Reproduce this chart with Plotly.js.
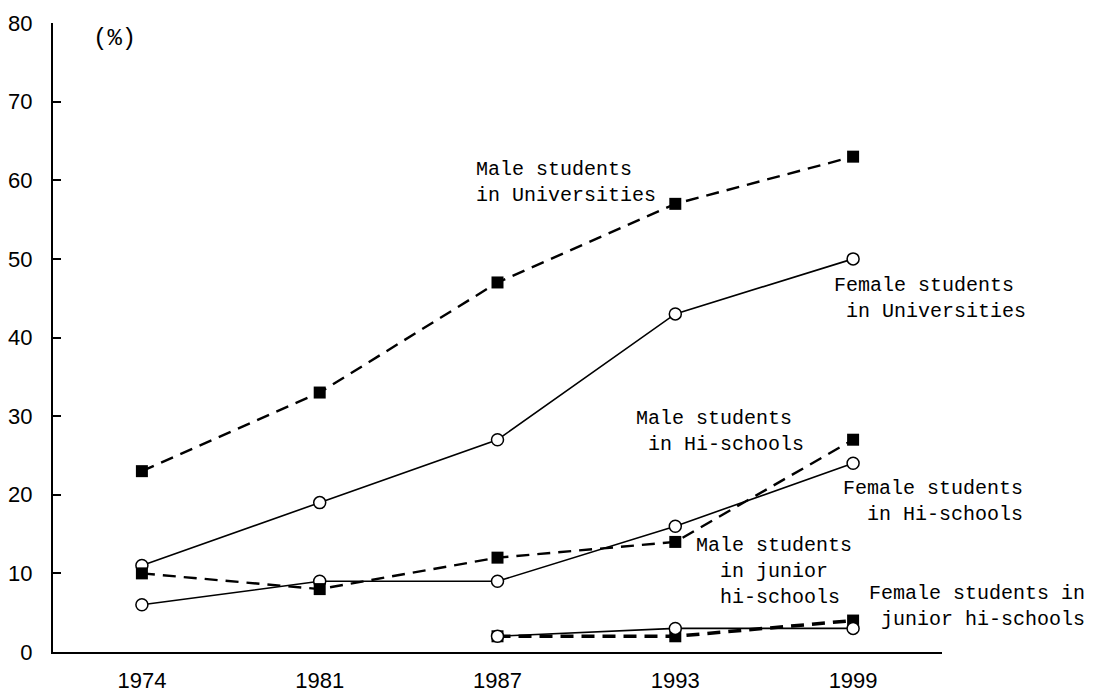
<!DOCTYPE html>
<html>
<head>
<meta charset="utf-8">
<script src="https://cdn.plot.ly/plotly-3.0.1.min.js"></script>
<style>html,body{margin:0;padding:0;background:#fff;}#chart{width:1093px;height:700px;}</style>
</head>
<body>
<div id="chart"></div>
<script>
const years = ['1974', '1981', '1987', '1993', '1999'];
const maleUniv = [23, 33, 47, 57, 63];
const femaleUniv = [11, 19, 27, 43, 50];
const maleHi = [10, 8, 12, 14, 27];
const femaleHi = [6, 9, 9, 16, 24];
const maleJunior = [null, null, 2, 2, 4];
const femaleJunior = [null, null, 2, 3, 3];
const yTicks = [0, 10, 20, 30, 40, 50, 60, 70, 80];
const seriesLabels = [
  'Male students<br>in Universities',
  'Female students<br>\u00a0in Universities',
  'Male students<br>\u00a0in Hi-schools',
  'Female students<br>\u00a0\u00a0in Hi-schools',
  'Male students<br>\u00a0\u00a0in junior<br>\u00a0\u00a0hi-schools',
  'Female students in<br>\u00a0junior hi-schools'
];

const solid = {color: '#000', width: 1.6};
const dashed = {color: '#000', width: 2.4, dash: '13px,8px'};
const circle = {symbol: 'circle', size: 12, color: '#fff', line: {color: '#000', width: 1.5}};
const square = {symbol: 'square', size: 12, color: '#000', line: {color: '#000', width: 0}};

function tr(y, line, marker) {
  return {x: years, y: y, type: 'scatter', mode: 'lines+markers', line: line, marker: marker,
          showlegend: false, hoverinfo: 'skip', connectgaps: false};
}

const data = [
  tr(femaleUniv, solid, circle),
  tr(femaleHi, solid, circle),
  tr(maleUniv, dashed, square),
  tr(maleHi, dashed, square),
  tr(maleJunior, Object.assign({}, dashed, {width: 3.5}), square),
  tr(femaleJunior, solid, circle)
];

const labelPos = [
  [1.865, 59.7], [3.882, 45.0], [2.766, 28.1], [3.932, 19.2], [3.104, 10.2], [4.079, 5.85]
];
const labelFont = {family: 'Liberation Mono, DejaVu Sans Mono, monospace', size: 20, color: '#000'};

const annotations = seriesLabels.map((t, i) => ({
  text: t, x: labelPos[i][0], y: labelPos[i][1], xref: 'x', yref: 'y',
  xanchor: 'left', yanchor: 'middle', align: 'left', showarrow: false, font: labelFont
}));
annotations.push({
  text: '(%)', xref: 'paper', yref: 'paper', showarrow: false,
  x: (114 - 53) / (1093 - 53 - 151), y: (652 - 38) / (652 - 23),
  xanchor: 'center', yanchor: 'middle',
  font: {family: 'Liberation Mono, monospace', size: 24, color: '#000'}
});

const tickFont = {family: 'Liberation Sans, Arial, sans-serif', size: 22, color: '#000'};

const layout = {
  width: 1093, height: 700,
  margin: {l: 53, r: 151, t: 23, b: 48},
  paper_bgcolor: '#fff', plot_bgcolor: '#fff',
  font: tickFont,
  xaxis: {
    type: 'category', range: [-0.5, 4.5], showgrid: false, zeroline: false,
    showline: true, linecolor: '#000', linewidth: 2, ticks: '',
    tickfont: tickFont, ticklabelstandoff: 8, fixedrange: true
  },
  yaxis: {
    range: [0, 80], tickvals: yTicks, showgrid: false, zeroline: false,
    showline: true, linecolor: '#000', linewidth: 2,
    ticks: 'inside', ticklen: 8, tickwidth: 2, tickcolor: '#000',
    tickfont: tickFont, ticklabelstandoff: 14, fixedrange: true
  },
  annotations: annotations
};

Plotly.newPlot('chart', data, layout, {staticPlot: true, displayModeBar: false});
</script>
</body>
</html>
